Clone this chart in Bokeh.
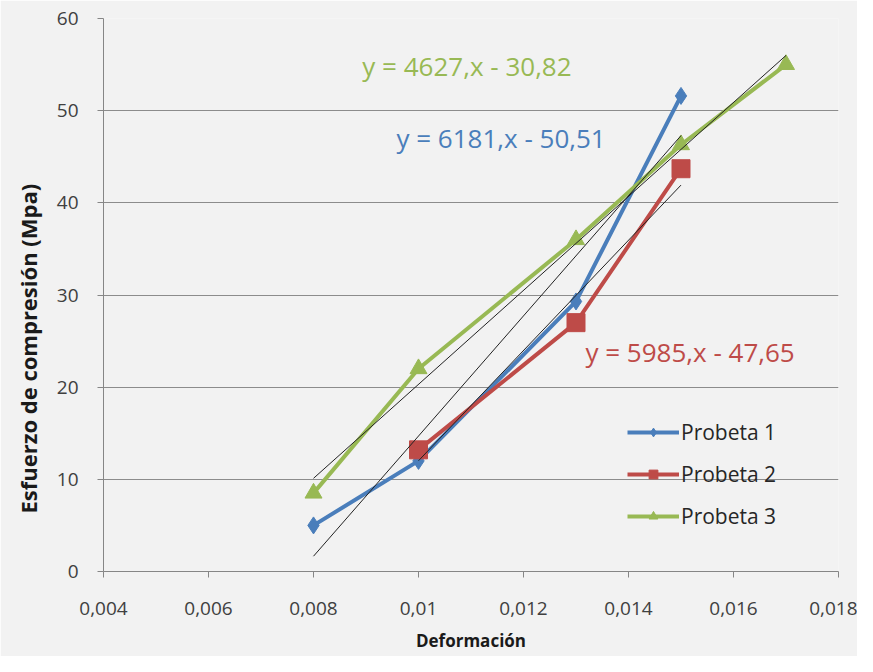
import numpy as np
from bokeh.plotting import figure
from bokeh.models import Range1d, FixedTicker, CustomJSTickFormatter, Label, Legend, LegendItem, Title
from bokeh.embed import file_html
from bokeh.resources import INLINE

# ---- data ----
series_names = ["Probeta 1", "Probeta 2", "Probeta 3"]
x_p1 = [0.008, 0.010, 0.013, 0.015]
y_p1 = [5.0, 12.0, 29.3, 51.6]
x_p2 = [0.010, 0.013, 0.015]
y_p2 = [13.2, 27.0, 43.7]
x_p3 = [0.008, 0.010, 0.013, 0.015, 0.017]
y_p3 = [8.5, 22.0, 36.0, 46.3, 55.0]
equations = ["y = 6181,x - 50,51", "y = 5985,x - 47,65", "y = 4627,x - 30,82"]
x_ticks = [0.004, 0.006, 0.008, 0.010, 0.012, 0.014, 0.016, 0.018]
y_ticks = [0, 10, 20, 30, 40, 50, 60]
x_title = "Deformación"
y_title = "Esfuerzo de compresión (Mpa)"

colors = ["#4a7ebb", "#be4b48", "#98b954"]
markers = ["diamond", "square", "triangle"]
marker_sizes = [17, 18, 17]
label_pos = [(0.00958, 47.0), (0.01318, 23.8), (0.00893, 54.8)]

FONT = "Open Sans"
BG = "#f2f2f2"

p = figure(width=857, height=656, output_backend="svg", toolbar_location=None,
           x_range=Range1d(0.004, 0.018), y_range=Range1d(0, 60),
           background_fill_color=BG, border_fill_color=BG,
           min_border_left=103, min_border_right=19, min_border_top=18, min_border_bottom=85)
p.outline_line_color = None
p.xgrid.visible = False
p.ygrid.grid_line_color = "#8c8c8c"
p.ygrid.grid_line_width = 1

p.xaxis.ticker = FixedTicker(ticks=x_ticks)
p.yaxis.ticker = FixedTicker(ticks=y_ticks)
p.xaxis.formatter = CustomJSTickFormatter(code="return parseFloat(tick.toFixed(3)).toString().replace('.', ',');")
for ax in (p.xaxis[0], p.yaxis[0]):
    ax.axis_line_color = "#868686"
    ax.major_tick_line_color = "#868686"
    ax.minor_tick_line_color = None
    ax.major_tick_in = 0
    ax.major_tick_out = 6
    ax.major_label_text_font = FONT
    ax.major_label_text_color = "#404040"
    ax.axis_label_text_font = FONT
    ax.axis_label_text_font_style = "bold"
    ax.axis_label_text_color = "#1a1a1a"
p.xaxis.major_label_text_font_size = "19px"
p.yaxis.major_label_text_font_size = "19px"
p.xaxis.axis_label = x_title
p.xaxis.axis_label_text_font_size = "17px"
p.xaxis.major_label_standoff = 24
p.yaxis.major_label_standoff = 19
p.xaxis.axis_label_standoff = 11

xs = [x_p1, x_p2, x_p3]
ys = [y_p1, y_p2, y_p3]
items = []
for i in range(3):
    l = p.line(xs[i], ys[i], line_color=colors[i], line_width=4)
    s = p.scatter(xs[i], ys[i], marker=markers[i], size=marker_sizes[i],
                  fill_color=colors[i], line_color=colors[i])
    items.append(LegendItem(label=series_names[i], renderers=[l, s]))

# linear trendlines (least squares fit of each series)
for i in range(3):
    m, b = np.polyfit(xs[i], ys[i], 1)
    x0, x1 = min(xs[i]), max(xs[i])
    p.line([x0, x1], [m * x0 + b, m * x1 + b], line_color="#222222", line_width=1)

for i in range(3):
    p.add_layout(Label(x=label_pos[i][0], y=label_pos[i][1], text=equations[i],
                       text_color=colors[i], text_font=FONT, text_font_size="26px",
                       text_baseline="middle", text_align="left"))

# y axis title (sits below the axis centre as in the original)
p.add_layout(Title(text=y_title, align="left", offset=58, standoff=21,
                   text_font=FONT, text_font_size="22px", text_font_style="bold",
                   text_color="#1a1a1a"), "left")

legend = Legend(items=items, location=(524, 41), background_fill_alpha=0,
                border_line_color=None, label_text_font=FONT,
                label_text_font_size="21px", label_text_color="#262626",
                glyph_width=52, glyph_height=22, label_standoff=2, spacing=14,
                padding=4, margin=0)
p.add_layout(legend, "center")

open("out.html", "w").write(file_html(p, INLINE))
